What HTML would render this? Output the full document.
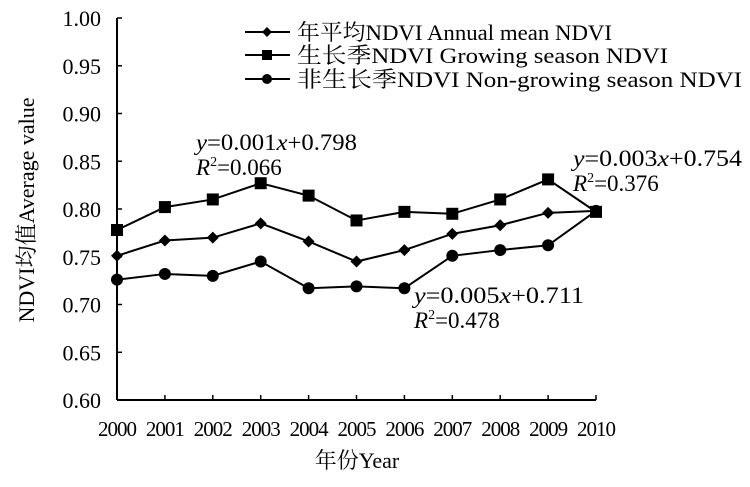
<!DOCTYPE html>
<html><head><meta charset="utf-8"><style>
body{margin:0;background:#fff}
svg text{font-family:"Liberation Serif","Noto Serif CJK SC",serif;fill:#000}
</style></head><body>
<svg width="750" height="482">
<g id="axes"></g><g id="series"></g>
<g font-size="22">
<line x1="245" y1="32" x2="290" y2="32" stroke="#000" stroke-width="2"/><path d="M267 27L272 32L267 37L262 32Z"/>
<text x="297" y="40" textLength="315" lengthAdjust="spacingAndGlyphs">年平均NDVI Annual mean NDVI</text>
<line x1="245" y1="55" x2="290" y2="55" stroke="#000" stroke-width="2"/><rect x="262" y="50" width="10" height="10"/>
<text x="297" y="63" textLength="371" lengthAdjust="spacingAndGlyphs">生长季NDVI Growing season NDVI</text>
<line x1="245" y1="79" x2="290" y2="79" stroke="#000" stroke-width="2"/><circle cx="267" cy="79" r="5"/>
<text x="297" y="87" textLength="445" lengthAdjust="spacingAndGlyphs">非生长季NDVI Non-growing season NDVI</text>
</g>
<g font-size="23">
<text x="196" y="150" textLength="161" lengthAdjust="spacingAndGlyphs"><tspan font-style="italic">y</tspan>=0.001<tspan font-style="italic">x</tspan>+0.798</text>
<text x="196" y="175"><tspan font-style="italic">R</tspan><tspan font-size="14" dy="-9">2</tspan><tspan dy="9">=0.066</tspan></text>
<text x="573" y="166" textLength="169" lengthAdjust="spacingAndGlyphs"><tspan font-style="italic">y</tspan>=0.003<tspan font-style="italic">x</tspan>+0.754</text>
<text x="573" y="191"><tspan font-style="italic">R</tspan><tspan font-size="14" dy="-9">2</tspan><tspan dy="9">=0.376</tspan></text>
<text x="414" y="303" textLength="170" lengthAdjust="spacingAndGlyphs"><tspan font-style="italic">y</tspan>=0.005<tspan font-style="italic">x</tspan>+0.711</text>
<text x="414" y="328"><tspan font-style="italic">R</tspan><tspan font-size="14" dy="-9">2</tspan><tspan dy="9">=0.478</tspan></text>
</g>
<text x="357" y="468" font-size="22" text-anchor="middle">年份Year</text>
<text transform="translate(34,210) rotate(-90)" font-size="22" text-anchor="middle">NDVI均值Average value</text>
</svg>
<script>
const years=[2000,2001,2002,2003,2004,2005,2006,2007,2008,2009,2010];
const annual=[0.751,0.767,0.770,0.785,0.766,0.745,0.757,0.774,0.783,0.796,0.798];
const growing=[0.778,0.802,0.810,0.827,0.814,0.788,0.797,0.795,0.810,0.831,0.797];
const nongrowing=[0.726,0.732,0.730,0.745,0.717,0.719,0.717,0.751,0.757,0.762,0.798];
const yTicks=[0.60,0.65,0.70,0.75,0.80,0.85,0.90,0.95,1.00];
const NS="http://www.w3.org/2000/svg";
const X0=117,X1=596,Y0=400,Y1=18;
const xs=i=>X0+(X1-X0)*i/(years.length-1);
const ys=v=>Y0-(v-0.6)/0.4*(Y0-Y1);
function mk(t,a,p){const e=document.createElementNS(NS,t);for(const k in a)e.setAttribute(k,a[k]);p.appendChild(e);return e;}
const ax=document.getElementById('axes'),se=document.getElementById('series');
const yl=mk('line',{x1:X0,y1:Y1,x2:X0,y2:Y0,stroke:'#000','stroke-width':2},ax);


const xl=mk('line',{x1:X0,y1:Y0,x2:X1,y2:Y0,stroke:'#000','stroke-width':2},ax);


yTicks.forEach(v=>{const y=ys(v);mk('line',{x1:X0,y1:y,x2:X0+5,y2:y,stroke:'#000','stroke-width':1.5},ax);
const t=mk('text',{x:X0-16,y:y+8,'font-size':22,'text-anchor':'end'},ax);t.textContent=v.toFixed(2);

});
years.forEach((yr,i)=>{const x=xs(i);if(i>0)mk('line',{x1:x,y1:Y0,x2:x,y2:Y0-5,stroke:'#000','stroke-width':1.5},ax);
const t=mk('text',{x:x,y:436,'font-size':21,'text-anchor':'middle','letter-spacing':'-1'},ax);t.textContent=yr;

});
function series(vals,shape,name){const g=mk('g',{},se);


mk('polyline',{points:vals.map((v,i)=>xs(i)+','+ys(v)).join(' '),fill:'none',stroke:'#000','stroke-width':2},g);
vals.forEach((v,i)=>{const x=xs(i),y=ys(v);let m;
if(shape==='d')m=mk('path',{d:`M${x} ${y-6}L${x+6} ${y}L${x} ${y+6}L${x-6} ${y}Z`},g);
else if(shape==='s')m=mk('rect',{x:x-6,y:y-6,width:12,height:12},g);
else m=mk('circle',{cx:x,cy:y,r:6},g);

});}
series(growing,'s','growing-series');
series(annual,'d','annual-series');
series(nongrowing,'c','non-growing-series');
</script>
</body></html>
